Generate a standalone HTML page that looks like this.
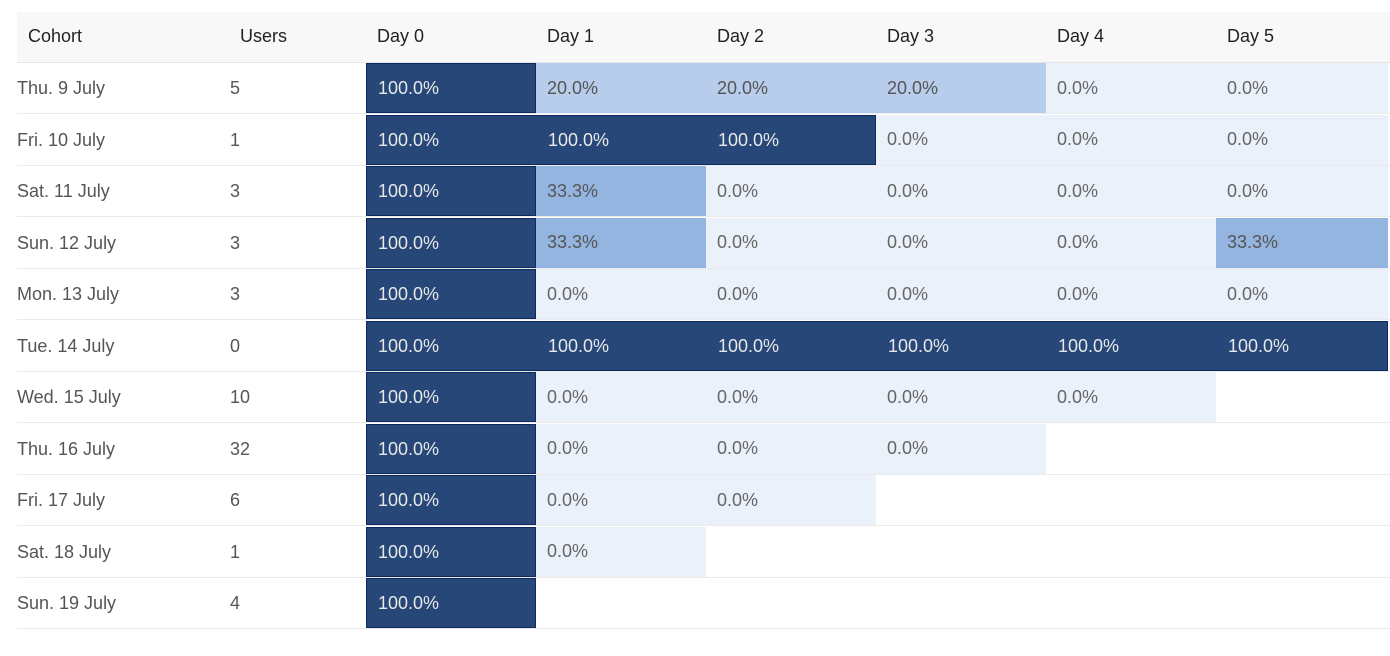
<!DOCTYPE html>
<html><head><meta charset="utf-8"><style>
body{margin:0;width:1390px;height:656px;background:#fff;position:relative;overflow:hidden;font-family:"Liberation Sans",sans-serif;font-size:18px;color:#555}
.h{position:absolute;top:12px;left:17px;width:1373px;height:50px;background:#f8f8f8;border-bottom:1px solid #e6e6e6}
.t{position:absolute;line-height:20px}
.ht{color:#222;top:26px}
.line{position:absolute;left:17px;width:1373px;height:1px;background:#ebebeb}
.c{position:absolute;box-sizing:border-box;padding-left:11px;display:flex;align-items:center;font-size:18px}
.d{position:absolute;box-sizing:border-box;background:#264778;border:1px solid #0d2a60}
.dt{color:#e8e8e8;position:absolute}
.l2{background:#b8cdeb;color:#555}
.l3{background:#95b5e1;color:#555}
.l0{background:#ebf1fa;color:#666}
</style></head><body>
<div class="h"></div>
<div class="t ht" style="left:28px">Cohort</div>
<div class="t ht" style="left:240px">Users</div>
<div class="t ht" style="left:377px">Day 0</div>
<div class="t ht" style="left:547px">Day 1</div>
<div class="t ht" style="left:717px">Day 2</div>
<div class="t ht" style="left:887px">Day 3</div>
<div class="t ht" style="left:1057px">Day 4</div>
<div class="t ht" style="left:1227px">Day 5</div>
<div id="g"></div>
<script>
var rows=[["Thu. 9 July",5,["100.0%","20.0%","20.0%","20.0%","0.0%","0.0%"]],
["Fri. 10 July",1,["100.0%","100.0%","100.0%","0.0%","0.0%","0.0%"]],
["Sat. 11 July",3,["100.0%","33.3%","0.0%","0.0%","0.0%","0.0%"]],
["Sun. 12 July",3,["100.0%","33.3%","0.0%","0.0%","0.0%","33.3%"]],
["Mon. 13 July",3,["100.0%","0.0%","0.0%","0.0%","0.0%","0.0%"]],
["Tue. 14 July",0,["100.0%","100.0%","100.0%","100.0%","100.0%","100.0%"]],
["Wed. 15 July",10,["100.0%","0.0%","0.0%","0.0%","0.0%"]],
["Thu. 16 July",32,["100.0%","0.0%","0.0%","0.0%"]],
["Fri. 17 July",6,["100.0%","0.0%","0.0%"]],
["Sat. 18 July",1,["100.0%","0.0%"]],
["Sun. 19 July",4,["100.0%"]]];
var h="";
rows.forEach(function(r,i){var top=62+i*51.5;
h+='<div class="line" style="top:'+(top+51)+'px"></div>';
h+='<div class="t" style="left:17px;top:'+(top+16)+'px">'+r[0]+'</div>';
h+='<div class="t" style="left:230px;top:'+(top+16)+'px">'+r[1]+'</div>';
var n=0;while(n<r[2].length&&r[2][n]=="100.0%")n++;
var dw=n*170+(n==6?2:0);
h+='<div class="d" style="left:366px;top:'+(top+1)+'px;width:'+dw+'px;height:50px"></div>';
for(var j=0;j<n;j++)h+='<div class="t dt" style="left:'+(378+j*170)+'px;top:'+(top+16)+'px">100.0%</div>';
r[2].forEach(function(v,j){if(j<n)return;var cls=v=="20.0%"?"l2":v=="33.3%"?"l3":"l0";
var x=366+j*170,w=j==5?172:170;
h+='<div class="c '+cls+'" style="left:'+x+'px;top:'+(top+1)+'px;width:'+w+'px;height:50px">'+v+'</div>';});
});
document.getElementById("g").innerHTML=h;
</script>
</body></html>
